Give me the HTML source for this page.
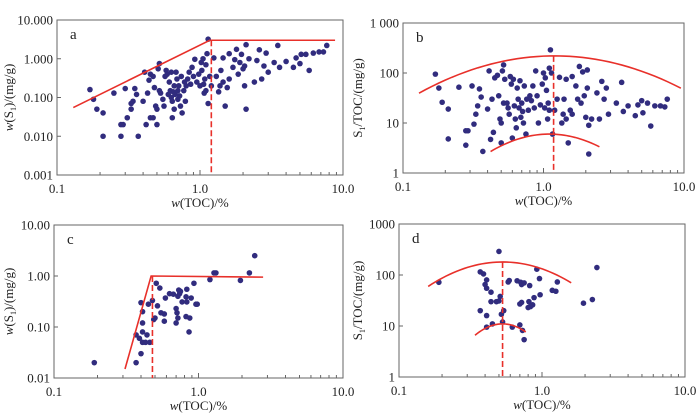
<!DOCTYPE html>
<html><head><meta charset="utf-8"><style>
html,body{margin:0;padding:0;background:#fff;}
svg{display:block;font-family:"Liberation Serif",serif;}
</style></head><body>
<svg id="chart" width="700" height="415" viewBox="0 0 700 415" xmlns="http://www.w3.org/2000/svg"></svg>
<script>
const aPoints=[[0.17,0.16],[0.18,0.09],[0.19,0.05],[0.21,0.04],[0.21,0.01],[0.25,0.13],[0.28,0.01],[0.28,0.02],[0.29,0.02],[0.30,0.17],[0.31,0.03],[0.33,0.07],[0.33,0.05],[0.34,0.08],[0.35,0.17],[0.36,0.12],[0.37,0.01],[0.40,0.08],[0.41,0.45],[0.42,0.02],[0.43,0.13],[0.44,0.28],[0.45,0.4],[0.45,0.03],[0.47,0.03],[0.47,0.35],[0.48,0.18],[0.49,0.06],[0.50,0.05],[0.50,0.02],[0.51,0.55],[0.52,0.75],[0.52,0.15],[0.53,0.13],[0.55,0.09],[0.56,0.06],[0.57,0.35],[0.58,0.5],[0.59,0.4],[0.60,0.12],[0.61,0.25],[0.62,0.15],[0.63,0.45],[0.63,0.1],[0.64,0.08],[0.64,0.03],[0.65,0.14],[0.66,0.05],[0.66,0.2],[0.67,0.12],[0.68,0.45],[0.69,0.3],[0.70,0.15],[0.70,0.09],[0.71,0.2],[0.72,0.11],[0.73,0.06],[0.74,0.35],[0.75,0.04],[0.77,0.15],[0.78,0.25],[0.79,0.08],[0.80,0.2],[0.82,0.3],[0.84,0.45],[0.86,0.22],[0.88,0.6],[0.90,0.35],[0.92,0.97],[0.95,0.25],[0.98,0.4],[1.0,0.2],[1.02,0.8],[1.03,0.5],[1.05,1.0],[1.06,0.22],[1.07,0.13],[1.08,0.3],[1.10,0.7],[1.10,0.15],[1.12,1.35],[1.14,0.07],[1.14,3.2],[1.17,0.35],[1.2,0.2],[1.25,1.05],[1.3,0.35],[1.35,0.14],[1.38,0.2],[1.4,0.5],[1.45,1.05],[1.45,0.25],[1.5,0.06],[1.55,0.18],[1.6,0.3],[1.6,1.35],[1.7,0.6],[1.75,0.95],[1.8,1.75],[1.85,0.4],[1.9,0.8],[1.95,1.3],[2.0,0.55],[2.05,0.65],[2.05,0.2],[2.1,0.05],[2.1,2.3],[2.2,1.0],[2.4,0.25],[2.5,0.9],[2.6,1.7],[2.7,0.3],[2.8,0.65],[2.9,1.4],[3.0,0.45],[3.3,0.8],[3.5,2.2],[3.6,0.6],[4.0,0.85],[4.5,0.6],[4.7,1.05],[5.0,0.75],[5.1,1.3],[5.5,1.3],[5.8,0.5],[6.2,1.4],[6.8,1.5],[7.3,1.5],[7.7,2.2]];
const bPoints=[[0.17,95],[0.18,50],[0.19,26],[0.21,19],[0.21,4.8],[0.25,52],[0.28,3.6],[0.28,7],[0.29,7],[0.31,55],[0.32,9.5],[0.33,15],[0.34,22],[0.35,48],[0.36,33],[0.37,2.7],[0.40,19],[0.41,110],[0.42,4.7],[0.43,30],[0.44,6.5],[0.45,80],[0.47,90],[0.48,35],[0.49,12],[0.50,10],[0.50,4],[0.51,110],[0.52,145],[0.52,25],[0.53,75],[0.55,25],[0.56,20],[0.57,15],[0.58,85],[0.59,60],[0.60,5],[0.61,75],[0.62,22],[0.63,12],[0.64,8],[0.65,50],[0.66,30],[0.67,20],[0.68,70],[0.69,13],[0.70,25],[0.71,17],[0.72,10],[0.73,55],[0.75,6],[0.76,30],[0.78,18],[0.80,35],[0.82,28],[0.84,55],[0.86,20],[0.88,110],[0.90,35],[0.92,10],[0.95,23],[0.98,60],[1.0,100],[1.02,20],[1.03,80],[1.05,45],[1.07,12],[1.08,25],[1.1,125],[1.1,18],[1.12,290],[1.14,100],[1.16,6],[1.2,18],[1.25,30],[1.3,82],[1.35,10],[1.38,15],[1.4,30],[1.45,75],[1.45,12],[1.5,4],[1.55,18],[1.6,15],[1.6,85],[1.7,55],[1.75,30],[1.8,135],[1.85,25],[1.9,105],[1.95,35],[2.0,13],[2.05,50],[2.05,115],[2.1,9],[2.1,2.4],[2.2,12],[2.4,40],[2.5,12],[2.6,68],[2.7,30],[2.8,50],[2.9,15],[3.3,25],[3.6,65],[3.7,17],[4.0,22],[4.5,14],[4.7,23],[5.0,28],[5.1,16],[5.5,25],[5.8,8.7],[6.2,22],[6.8,22],[7.3,21],[7.6,30]];
const cPoints=[[0.19,0.02],[0.37,0.02],[0.37,0.07],[0.39,0.06],[0.40,0.03],[0.40,0.3],[0.41,0.2],[0.41,0.12],[0.41,0.08],[0.41,0.05],[0.43,0.05],[0.44,0.07],[0.45,0.28],[0.46,0.05],[0.48,0.33],[0.49,0.14],[0.50,0.15],[0.51,0.72],[0.52,0.26],[0.54,0.58],[0.55,0.19],[0.58,0.13],[0.58,0.18],[0.59,0.37],[0.63,0.45],[0.67,0.44],[0.70,0.23],[0.70,0.12],[0.71,0.19],[0.72,0.4],[0.72,0.15],[0.73,0.53],[0.74,0.45],[0.75,0.5],[0.77,0.31],[0.82,0.39],[0.83,0.55],[0.82,0.16],[0.83,0.31],[0.86,0.08],[0.87,0.15],[0.89,0.37],[0.93,0.72],[0.96,0.28],[0.98,0.28],[1.2,0.85],[1.28,1.15],[1.32,1.15],[1.95,0.82],[2.25,1.15],[2.45,2.5]];
const dPoints=[[0.19,72],[0.37,115],[0.37,20],[0.39,105],[0.40,65],[0.41,80],[0.41,55],[0.41,9.5],[0.41,16],[0.44,46],[0.44,30],[0.45,11],[0.48,30],[0.50,290],[0.50,31],[0.51,38],[0.52,17],[0.53,12],[0.54,20],[0.58,73],[0.59,78],[0.62,9.5],[0.67,77],[0.70,27],[0.70,10.5],[0.71,72],[0.72,65],[0.72,29],[0.73,8.2],[0.75,5.4],[0.75,70],[0.80,23],[0.81,30],[0.82,62],[0.83,24],[0.86,26],[0.88,36],[0.92,130],[0.96,85],[0.97,41],[1.18,50],[1.25,48],[1.28,73],[1.95,28],[2.25,33],[2.42,140]];
const xTicks=["0.1","1.0","10.0"];
const aYTicks=["0.001","0.010","0.100","1.000","10.000"];
const bYTicks=["1","10","100","1 000"];
const cYTicks=["0.01","0.10","1.00","10.00"];
const dYTicks=["1","10","100","1000"];
const aLine=[[0.13,0.055],[1.17,3.0],[8.8,3.0]];
const aDash=1.2;
const cLine=[[0.31,0.015],[0.47,1.0],[2.8,0.95]];
const cDash=0.48;
const bUpper=[1.2,220,0.8,0.13,9.5];
const bLower=[1.1,6,2.0,0.42,2.5];
const bDash=1.18;
const dUpper=[0.53,180,1.77,0.16,1.6];
const dLower=[0.53,11,6,0.34,0.77];
const dDash=0.53;

const NS="http://www.w3.org/2000/svg";
const svg=document.getElementById('chart');
function mk(tag,attrs,parent){const e=document.createElementNS(NS,tag);for(const k in attrs)e.setAttribute(k,attrs[k]);(parent||svg).appendChild(e);return e;}
const RED="#e8302a",DOT="#312c7e";

function panel(o){
  const g=mk('g',{});
  
  
  const lx0=Math.log10(o.xmin),lx1=Math.log10(o.xmax),ly0=Math.log10(o.ymin),ly1=Math.log10(o.ymax);
  const X=v=>o.L+(Math.log10(v)-lx0)/(lx1-lx0)*(o.R-o.L);
  const Y=v=>o.B-(Math.log10(v)-ly0)/(ly1-ly0)*(o.B-o.T);
  const frame=mk('rect',{x:o.L,y:o.T,width:o.R-o.L,height:o.B-o.T,fill:'none',stroke:'#666','stroke-width':1},g);
  
  
  for(let d=lx0;d<lx1;d++){for(let m=1;m<10;m++){const v=Math.pow(10,d)*m;const px=X(v);const len=m===1?5:3;
    const t=mk('line',{x1:px,x2:px,y1:o.B,y2:o.B-len,stroke:'#666','stroke-width':1},g);
    
    }}
  xTicks.forEach((s,i)=>{const t=mk('text',{x:X(Math.pow(10,lx0+i)),y:o.B+18,'font-size':13,'text-anchor':'middle',fill:'#222'},g);t.textContent=s;
    
    });
  o.yt.forEach((s,i)=>{const py=Y(Math.pow(10,ly0+i));
    const tk=mk('line',{x1:o.L,x2:o.L+4,y1:py,y2:py,stroke:'#666','stroke-width':1},g);
    
    
    const t=mk('text',{x:o.L-4,y:py+4.5,'font-size':13,'text-anchor':'end',fill:'#222'},g);t.textContent=s;
    
    });
  const xt=mk('text',{x:(o.L+o.R)/2,y:o.B+32,'font-size':13,'text-anchor':'middle',fill:'#222'},g);
  xt.innerHTML='<tspan font-style="italic">w</tspan>(TOC)/%';
  
  
  const yt=mk('text',{x:0,y:0,'font-size':13,'text-anchor':'middle',fill:'#222',transform:`translate(${o.ytx},${(o.T+o.B)/2}) rotate(-90)`},g);
  yt.innerHTML=o.ratio?'S<tspan font-size="8" dy="3">1</tspan><tspan dy="-3">/TOC/(mg/g)</tspan>':'<tspan font-style="italic">w</tspan>(S<tspan font-size="8" dy="3">1</tspan><tspan dy="-3">)/(mg/g)</tspan>';
  
  
  const pl=mk('text',{x:o.L+13,y:o.T+19,'font-size':15,fill:'#222'},g);pl.textContent=o.id;
  
  
  o.pts.forEach(p=>{const c=mk('circle',{cx:X(p[0]),cy:Y(p[1]),r:2.8,fill:DOT},g);
    
    });
  if(o.line){const pth=mk('polyline',{points:o.line.map(p=>X(p[0])+','+Y(p[1])).join(' '),fill:'none',stroke:RED,'stroke-width':1.6},g);
    
    }
  (o.curves||[]).forEach(cv=>{const [px,py,k,xs,xe]=cv;const pts=[];const a=Math.log10(xs),b=Math.log10(xe),c=Math.log10(px),h=Math.log10(py);
    for(let i=0;i<=40;i++){const lx=a+(b-a)*i/40;const ly=h-k*(lx-c)*(lx-c);pts.push(X(Math.pow(10,lx))+','+Y(Math.pow(10,ly)));}
    const pth=mk('polyline',{points:pts.join(' '),fill:'none',stroke:RED,'stroke-width':1.6},g);
    
    });
  const dl=mk('line',{x1:X(o.dash),x2:X(o.dash),y1:Y(o.dashTop),y2:o.B,stroke:RED,'stroke-width':1.6,'stroke-dasharray':'6,3'},g);
  
  
}
panel({id:'a',L:57,R:343,T:20,B:175,xmin:0.1,xmax:10,ymin:0.001,ymax:10,yt:aYTicks,pts:aPoints,line:aLine,dash:aDash,dashTop:3.0,ytx:13});
panel({id:'b',L:403,R:684,T:23,B:173,xmin:0.1,xmax:10,ymin:1,ymax:1000,yt:bYTicks,pts:bPoints,curves:[bUpper,bLower],dash:bDash,dashTop:220,ytx:362,ratio:true});
panel({id:'c',L:54,R:343,T:225,B:378,xmin:0.1,xmax:10,ymin:0.01,ymax:10,yt:cYTicks,pts:cPoints,line:cLine,dash:cDash,dashTop:1.0,ytx:13});
panel({id:'d',L:399,R:685,T:224,B:377,xmin:0.1,xmax:10,ymin:1,ymax:1000,yt:dYTicks,pts:dPoints,curves:[dUpper,dLower],dash:dDash,dashTop:180,ytx:362,ratio:true});
</script>
</body></html>
